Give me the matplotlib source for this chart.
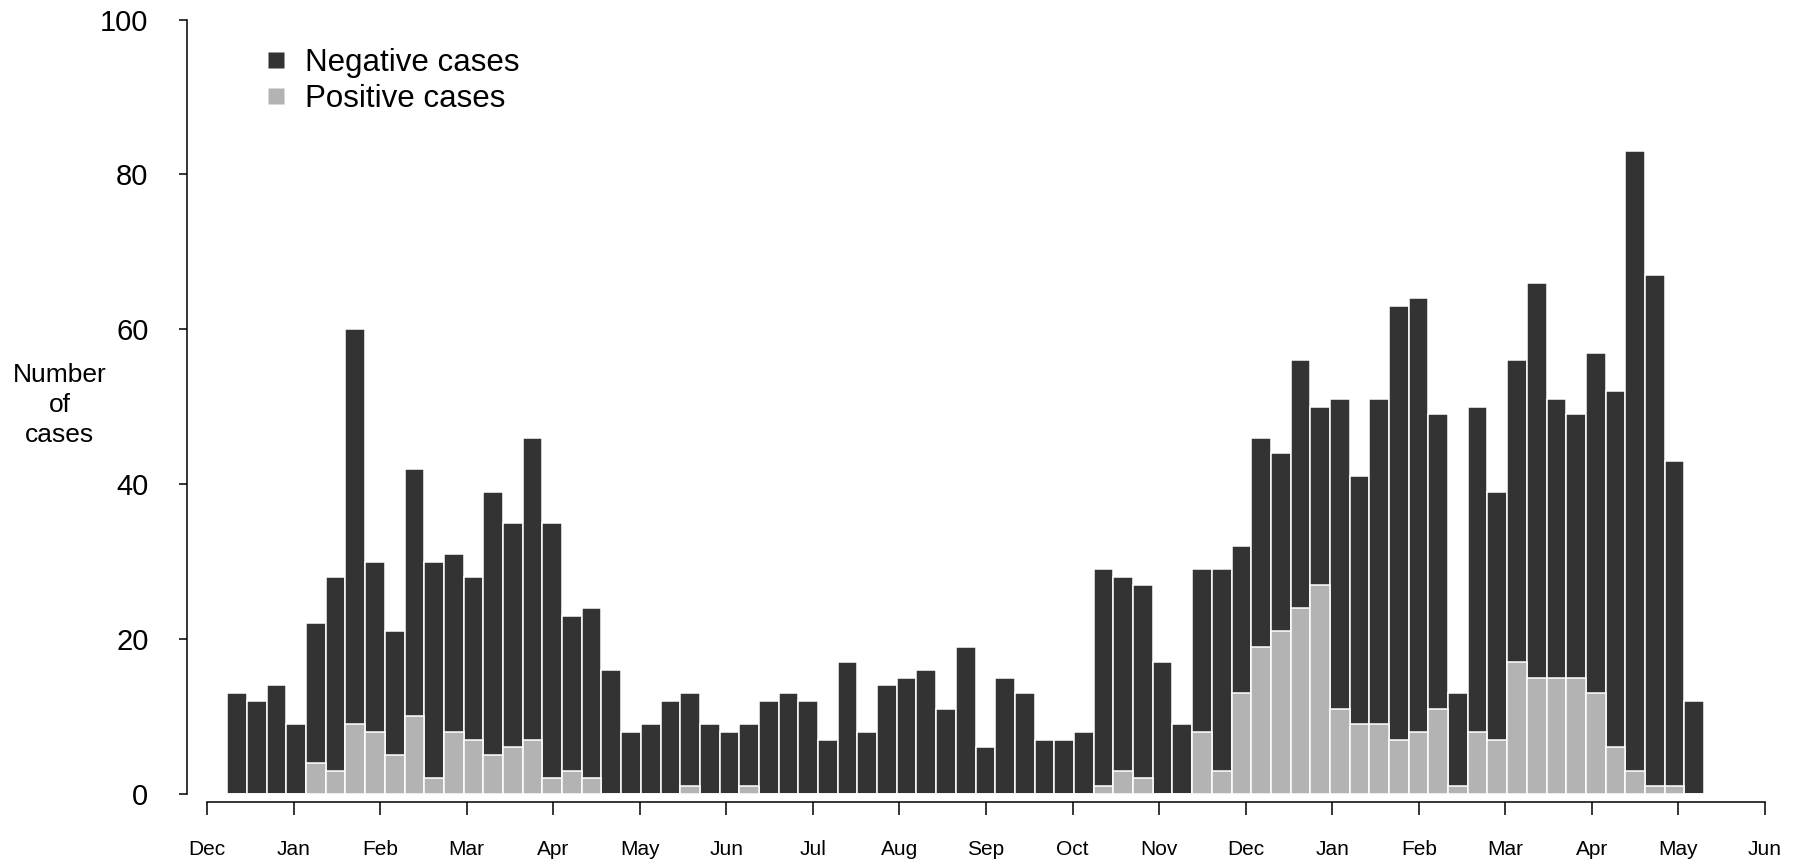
import numpy as np
import matplotlib
matplotlib.use("Agg")
import matplotlib.pyplot as plt
from matplotlib.lines import Line2D

plt.rcParams['font.family'] = ['Liberation Sans', 'DejaVu Sans']

# weekly totals (negative + positive) and positive cases
total = [13, 12, 14, 9, 22, 28, 60, 30, 21, 42, 30, 31, 28, 39, 35, 46, 35, 23, 24, 16,
         8, 9, 12, 13, 9, 8, 9, 12, 13, 12, 7, 17, 8, 14, 15, 16, 11, 19, 6, 15,
         13, 7, 7, 8, 29, 28, 27, 17, 9, 29, 29, 32, 46, 44, 56, 50, 51, 41, 51, 63,
         64, 49, 13, 50, 39, 56, 66, 51, 49, 57, 52, 83, 67, 43, 12]
positive = [0, 0, 0, 0, 4, 3, 9, 8, 5, 10, 2, 8, 7, 5, 6, 7, 2, 3, 2, 0,
            0, 0, 0, 1, 0, 0, 1, 0, 0, 0, 0, 0, 0, 0, 0, 0, 0, 0, 0, 0,
            0, 0, 0, 0, 1, 3, 2, 0, 0, 8, 3, 13, 19, 21, 24, 27, 11, 9, 9, 7,
            8, 11, 1, 8, 7, 17, 15, 15, 15, 13, 6, 3, 1, 1, 0]
month_labels = ['Dec', 'Jan', 'Feb', 'Mar', 'Apr', 'May', 'Jun', 'Jul', 'Aug', 'Sep',
                'Oct', 'Nov', 'Dec', 'Jan', 'Feb', 'Mar', 'Apr', 'May', 'Jun']

W, H = 1804, 868
dark = '#333333'
light = '#b3b3b3'

weeks = np.arange(len(total))
weeks_per_month = 4.396
first_tick = -1.533
month_ticks = first_tick + weeks_per_month * np.arange(len(month_labels))

fig = plt.figure(figsize=(W / 100, H / 100), dpi=100)
left, right = 207 / W, 1765 / W
bottom, top = (H - 793.8) / H, (H - 19.6) / H
ax = fig.add_axes([left, bottom, right - left, top - bottom])

ax.bar(weeks, total, width=1.0, color=dark, edgecolor='white', linewidth=1.1)
ax.bar(weeks, positive, width=1.0, color=light, edgecolor='white', linewidth=1.1)

ax.set_xlim(month_ticks[0], month_ticks[-1])
ax.set_ylim(0, 100)

for s in ['top', 'right']:
    ax.spines[s].set_visible(False)
ax.spines['left'].set_position(('outward', 14.4))
ax.spines['bottom'].set_position(('outward', 6))
ax.spines['left'].set_bounds(0, 100)
ax.spines['left'].set_linewidth(1.1)
ax.spines['bottom'].set_linewidth(1.1)

ax.set_yticks(np.arange(0, 101, 20))
ax.tick_params(axis='y', length=5.8, width=1.1, pad=22, labelsize=21)
ax.set_xticks(month_ticks)
ax.set_xticklabels(month_labels)
ax.tick_params(axis='x', length=9.5, width=1.1, pad=18, labelsize=15)

fig.text(59.7 / W, 1 - 405 / H, 'Number\nof\ncases', ha='center', va='center',
         fontsize=19, linespacing=1.3)

handles = [Line2D([], [], marker='s', color='none', markerfacecolor=dark,
                  markeredgecolor='none', markersize=11),
           Line2D([], [], marker='s', color='none', markerfacecolor=light,
                  markeredgecolor='none', markersize=11)]
fig.legend(handles, ['Negative cases', 'Positive cases'], loc='upper left',
           bbox_to_anchor=(260 / W, 1 - 48 / H), frameon=False, fontsize=22.5,
           handlelength=1.0, handletextpad=0.44, labelspacing=0.2,
           borderpad=0, borderaxespad=0)

fig.savefig('out.png', dpi=100)
